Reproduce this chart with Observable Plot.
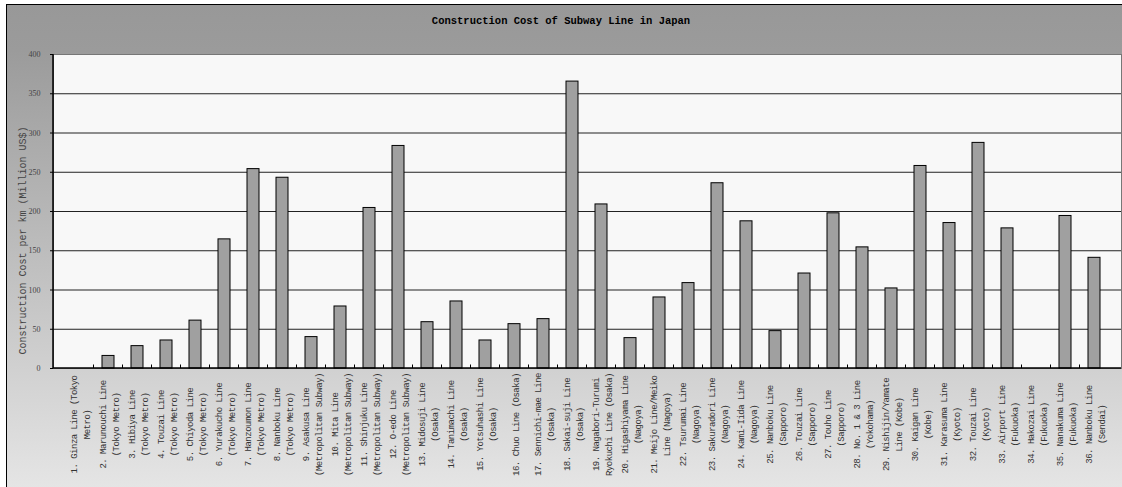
<!DOCTYPE html>
<html><head><meta charset="utf-8">
<script src="https://cdn.jsdelivr.net/npm/d3@7"></script>
<script src="https://cdn.jsdelivr.net/npm/@observablehq/plot@0.6"></script>
<style>
html,body{margin:0;padding:0;background:#fff;}
#chart{position:absolute;left:0;top:0;width:1122px;height:487px;overflow:hidden;}
#bg{position:absolute;left:6px;top:4px;width:1200px;height:600px;border-left:1.5px solid #000;border-top:1.5px solid #000;background:linear-gradient(to bottom,#989898 0px,#9b9b9b 45px,#e6e6e6 490px);}
#title{position:absolute;left:0;top:0;width:1122px;height:40px;text-align:center;font:bold 10.5px "Liberation Mono",monospace;line-height:43px;color:#000;}
#plot{position:absolute;left:0;top:40px;}
</style></head><body>
<div id="chart"><div id="bg"></div><div id="title"></div><div id="plot"></div></div>
<script>
const chartTitle = "Construction Cost of Subway Line in Japan";
const yTitle = "Construction Cost per km (Million US$)";
const lineNames = [
  "1. Ginza Line (Tokyo\nMetro)",
  "2. Marunouchi Line\n(Tokyo Metro)",
  "3. Hibiya Line\n(Tokyo Metro)",
  "4. Touzai Line\n(Tokyo Metro)",
  "5. Chiyoda Line\n(Tokyo Metro)",
  "6. Yurakucho Line\n(Tokyo Metro)",
  "7. Hanzoumon Line\n(Tokyo Metro)",
  "8. Nanboku Line\n(Tokyo Metro)",
  "9. Asakusa Line\n(Metropolitan Subway)",
  "10. Mita Line\n(Metropolitan Subway)",
  "11. Shinjuku Line\n(Metropolitan Subway)",
  "12. O-edo Line\n(Metropolitan Subway)",
  "13. Midosuji Line\n(Osaka)",
  "14. Tanimachi Line\n(Osaka)",
  "15. Yotsuhashi Line\n(Osaka)",
  "16. Chuo Line (Osaka)",
  "17. Sennichi-mae Line\n(Osaka)",
  "18. Sakai-suji Line\n(Osaka)",
  "19. Nagabori-Turumi\nRyokuchi Line (Osaka)",
  "20. Higashiyama Line\n(Nagoya)",
  "21. Meijo Line/Meiko\nLine (Nagoya)",
  "22. Tsurumai Line\n(Nagoya)",
  "23. Sakuradori Line\n(Nagoya)",
  "24. Kami-Iida Line\n(Nagoya)",
  "25. Nanboku Line\n(Sapporo)",
  "26. Touzai Line\n(Sapporo)",
  "27. Touho Line\n(Sapporo)",
  "28. No. 1 & 3 Line\n(Yokohama)",
  "29. Nishijin/Yamate\nLine (Kobe)",
  "30. Kaigan Line\n(Kobe)",
  "31. Karasuma Line\n(Kyoto)",
  "32. Touzai Line\n(Kyoto)",
  "33. Airport Line\n(Fukuoka)",
  "34. Hakozai Line\n(Fukuoka)",
  "35. Nanakuma Line\n(Fukuoka)",
  "36. Nanboku Line\n(Sendai)"
];
const costPerKm = [
  0, 16, 28.5, 35.7, 61, 164.5, 254, 243, 40, 79,
  204.5, 283.5, 59, 85.4, 35.7, 56.5, 62.9, 365.5, 209, 38.7,
  90.5, 108.8, 236, 187.5, 47.6, 121, 197.7, 154.3, 102, 258,
  185.3, 287.4, 178.5, 0, 194.3, 141
];
const yTicks = [0, 50, 100, 150, 200, 250, 300, 350, 400];
const gridValues = [50, 100, 150, 200, 250, 300, 350];

const rows = lineNames.map((name, i) => ({name, value: costPerKm[i]}));
document.getElementById("title").textContent = chartTitle;

const chart = Plot.plot({
  width: 1122, height: 447,
  marginLeft: 53, marginRight: 1, marginTop: 14, marginBottom: 119,
  style: {background: "transparent", fontFamily: "'Liberation Mono', monospace", overflow: "visible"},
  x: {domain: lineNames, paddingInner: 0.58, paddingOuter: 0.29, axis: null},
  y: {domain: [0, 400]},
  marks: [
    Plot.frame({fill: "#f8f8f8", stroke: "#777"}),
    Plot.ruleY(gridValues, {stroke: "#222", strokeWidth: 1}),
    Plot.barY(rows, {x: "name", y: "value", fill: "#a0a0a0", stroke: "#000", strokeWidth: 1}),
    Plot.axisY(yTicks, {tickSize: 3, tickPadding: 10, fontSize: 8, fontFamily: "'Liberation Serif', serif", fill: "#444", stroke: "#000", label: null}),
    Plot.text(rows, {x: "name", y: () => 0, text: "name", rotate: -90, dy: 56, textAnchor: "middle", lineAnchor: "middle", lineHeight: 1.4, fontSize: 9, fill: "#333"}),
    Plot.text([yTitle], {frameAnchor: "left", rotate: -90, dx: -31, dy: 29, textAnchor: "middle", lineAnchor: "middle", fontSize: 10, fill: "#444"})
  ]
});
document.getElementById("plot").appendChild(chart);

// axis lines and boundary ticks drawn from Plot's own scales
const xs = chart.scale("x"), ys = chart.scale("y");
const svg = d3.select(chart);
const textGroups = svg.selectAll('g[aria-label="text"]').nodes();
if (textGroups.length) d3.select(textGroups[0]).style("letter-spacing", "-0.5px");
const [xl, xr] = xs.range;
const y0 = ys.apply(0), yTop = ys.apply(400);
const g = svg.append("g").attr("stroke", "#000").attr("fill", "none");
for (let i = 0; i < lineNames.length - 1; i++) {
  const b = (xs.apply(lineNames[i]) + xs.bandwidth + xs.apply(lineNames[i + 1])) / 2;
  g.append("line").attr("x1", b).attr("x2", b).attr("y1", y0).attr("y2", y0 - 3.5).attr("stroke-width", 1);
}
g.append("line").attr("x1", xl).attr("x2", xl).attr("y1", yTop).attr("y2", y0).attr("stroke-width", 1.5);
g.append("line").attr("x1", xl).attr("x2", xr).attr("y1", y0).attr("y2", y0).attr("stroke-width", 1.5);
</script>
</body></html>
